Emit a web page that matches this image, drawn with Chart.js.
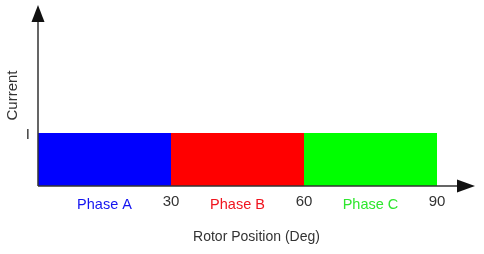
<!DOCTYPE html>
<html>
<head>
<meta charset="utf-8">
<style>
html,body{margin:0;padding:0;background:#fff;}
canvas{display:block;}
</style>
<script src="https://cdn.jsdelivr.net/npm/chart.js@4.4.1/dist/chart.umd.min.js"></script>
</head>
<body>
<canvas id="c" width="484" height="254"></canvas>
<script>
const categories = ['Phase A', 'Phase B', 'Phase C'];
const phaseStart = [0, 30, 60];
const phaseEnd = [30, 60, 90];
const currentLevel = [1, 1, 1];
const xTicks = [30, 60, 90];
const yTickValues = [1];
const yTickLabels = ['I'];
const fillColors = ['#0000ff', '#ff0000', '#00ff00'];
const textColors = ['#1414f0', '#f0141e', '#2ee62e'];

const FONT = '"Liberation Sans", Arial, sans-serif';

const datasets = categories.map((name, i) => ({
  label: name,
  data: [{x: phaseStart[i], y: currentLevel[i]}, {x: phaseEnd[i], y: currentLevel[i]}],
  fill: 'origin',
  backgroundColor: fillColors[i],
  borderColor: fillColors[i],
  borderWidth: 0,
  pointRadius: 0,
  tension: 0
}));

const decor = {
  id: 'decor',
  afterDraw(chart) {
    const ctx = chart.ctx;
    const a = chart.chartArea;
    const xs = chart.scales.x;
    ctx.save();
    ctx.strokeStyle = '#333';
    ctx.fillStyle = '#111';
    ctx.lineWidth = 1.5;
    ctx.beginPath();
    ctx.moveTo(a.left, a.bottom);
    ctx.lineTo(a.right - 14, a.bottom);
    ctx.moveTo(a.left, a.bottom);
    ctx.lineTo(a.left, a.top + 14);
    ctx.stroke();
    ctx.beginPath();
    ctx.moveTo(a.right, a.bottom);
    ctx.lineTo(a.right - 18, a.bottom - 6.5);
    ctx.lineTo(a.right - 18, a.bottom + 6.5);
    ctx.closePath();
    ctx.fill();
    ctx.beginPath();
    ctx.moveTo(a.left, a.top);
    ctx.lineTo(a.left - 6.5, a.top + 17);
    ctx.lineTo(a.left + 6.5, a.top + 17);
    ctx.closePath();
    ctx.fill();
    ctx.font = '14.5px ' + FONT;
    ctx.textAlign = 'center';
    ctx.textBaseline = 'middle';
    categories.forEach((name, i) => {
      ctx.fillStyle = textColors[i];
      const x = xs.getPixelForValue((phaseStart[i] + phaseEnd[i]) / 2);
      ctx.fillText(name, x, a.bottom + 19);
    });
    ctx.restore();
  }
};

new Chart(document.getElementById('c'), {
  type: 'line',
  data: { datasets },
  options: {
    responsive: false,
    animation: false,
    layout: { padding: { left: 0, right: 9, top: 5, bottom: 0 } },
    plugins: { legend: { display: false }, tooltip: { enabled: false } },
    scales: {
      x: {
        type: 'linear',
        min: 0,
        max: 98.57,
        grid: { display: false, drawTicks: false },
        border: { display: false },
        afterBuildTicks: s => { s.ticks = xTicks.map(v => ({ value: v })); },
        ticks: {
          autoSkip: false, maxRotation: 0, padding: 7,
          color: '#333', font: { family: FONT, size: 15 },
          callback: v => String(v)
        },
        title: {
          display: true, text: 'Rotor Position (Deg)', color: '#333',
          font: { family: FONT, size: 14 }, padding: { top: 0, bottom: 8 }
        },
        afterFit: s => { s.height = 68; s.paddingLeft = 0; s.paddingRight = 0; }
      },
      y: {
        type: 'linear',
        min: 0,
        max: 3.415,
        grid: { display: false, drawTicks: false },
        border: { display: false },
        afterBuildTicks: s => { s.ticks = yTickValues.map(v => ({ value: v })); },
        ticks: {
          autoSkip: false, padding: 8, labelOffset: 2,
          color: '#333', font: { family: FONT, size: 15 },
          callback: v => yTickLabels[yTickValues.indexOf(v)] || ''
        },
        title: {
          display: true, text: 'Current', color: '#333',
          font: { family: FONT, size: 15 }, padding: { top: 4, bottom: 0 }
        },
        afterFit: s => { s.width = 38; s.paddingTop = 0; s.paddingBottom = 0; }
      }
    }
  },
  plugins: [decor]
});
</script>
</body>
</html>
